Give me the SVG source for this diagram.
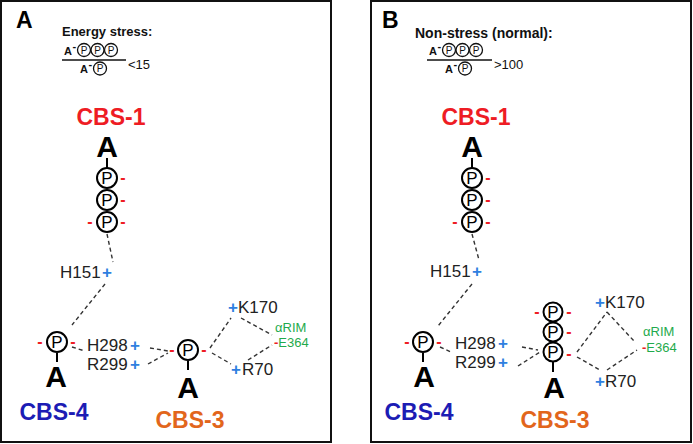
<svg xmlns="http://www.w3.org/2000/svg" width="693" height="444" viewBox="0 0 693 444">
<style>
.panel{fill:#fff;stroke:#111;stroke-width:2}
.plabel{font:bold 23px "Liberation Sans",Arial,sans-serif;fill:#000}
.head{font:bold 13px "Liberation Sans",Arial,sans-serif;fill:#111}
.fa{font:bold 11px "Liberation Sans",Arial,sans-serif;fill:#111}
.fp{font:10px "Liberation Sans",Arial,sans-serif;fill:#111;text-anchor:middle}
.fr{font:13px "Liberation Sans",Arial,sans-serif;fill:#111}
.fc{fill:#fff;stroke:#111;stroke-width:1.3}
.fl{stroke:#111;stroke-width:1.3}
.cbs{font:bold 23px "Liberation Sans",Arial,sans-serif;text-anchor:middle}
.red{fill:#ee1c24}
.blue{fill:#1c1cb4}
.orange{fill:#e2661c}
.bigA{font:bold 30px "Liberation Sans",Arial,sans-serif;fill:#000;text-anchor:middle}
.pc{fill:#fff;stroke:#000;stroke-width:2}
.pt{font:17px "Liberation Sans",Arial,sans-serif;fill:#000;text-anchor:middle}
.stem{stroke:#000;stroke-width:2}
.neg{font:bold 16px "Liberation Sans",Arial,sans-serif;fill:#ee1c24;text-anchor:middle}
.res{font:17px "Liberation Sans",Arial,sans-serif;fill:#222}
.pos{font:bold 17px "Liberation Sans",Arial,sans-serif;fill:#2f7fe0;text-anchor:middle}
.grn{font:13px "Liberation Sans",Arial,sans-serif;fill:#1faa4c}
.dash{fill:none;stroke:#333;stroke-width:1.4;stroke-dasharray:4 3}
</style>

<g id="panelA">
<rect class="panel" x="1" y="1" width="330" height="441"/>
<text class="plabel" x="16" y="28">A</text>
</g>
<g id="panelB">
<rect class="panel" x="371" y="1" width="320" height="441"/>
<text class="plabel" x="382" y="28">B</text>
</g>

<g id="formulaA">
<text class="head" x="62" y="36">Energy stress:</text>
<text class="fa" x="64" y="55">A</text>
<text class="fa" x="72.5" y="50">-</text>
<circle class="fc" cx="84" cy="50" r="6.5"/><text class="fp" x="84" y="53.6">P</text>
<circle class="fc" cx="97.5" cy="50" r="6.5"/><text class="fp" x="97.5" y="53.6">P</text>
<circle class="fc" cx="111" cy="50" r="6.5"/><text class="fp" x="111" y="53.6">P</text>
<line class="fl" x1="62" y1="60" x2="126" y2="60"/>
<text class="fa" x="80" y="73">A</text>
<text class="fa" x="88.5" y="68">-</text>
<circle class="fc" cx="100" cy="68.5" r="6.5"/><text class="fp" x="100" y="72.1">P</text>
<text class="fr" x="128" y="69">&lt;15</text>
</g>

<g id="formulaB">
<text class="head" x="415" y="38" style="font-size:14px">Non-stress (normal):</text>
<text class="fa" x="429" y="55">A</text>
<text class="fa" x="437.5" y="50">-</text>
<circle class="fc" cx="449" cy="50" r="6.5"/><text class="fp" x="449" y="53.6">P</text>
<circle class="fc" cx="462.5" cy="50" r="6.5"/><text class="fp" x="462.5" y="53.6">P</text>
<circle class="fc" cx="476" cy="50" r="6.5"/><text class="fp" x="476" y="53.6">P</text>
<line class="fl" x1="427" y1="60" x2="492" y2="60"/>
<text class="fa" x="445" y="73">A</text>
<text class="fa" x="453.5" y="68">-</text>
<circle class="fc" cx="465" cy="68.5" r="6.5"/><text class="fp" x="465" y="72.1">P</text>
<text class="fr" x="494" y="69">&gt;100</text>
</g>

<g id="connectors">
<path class="dash" d="M107,234 L113,262"/>
<path class="dash" d="M105,284 L72,325"/>
<path class="dash" d="M72,347 L85,351"/>
<path class="dash" d="M150,348 L168,351"/>
<path class="dash" d="M148,364 L168,353"/>
<path class="dash" d="M210,348 L231,318"/>
<path class="dash" d="M241,318 L272,335"/>
<path class="dash" d="M212,353 L231,364"/>
<path class="dash" d="M248,360 L272,345"/>

<path class="dash" d="M472,234 L479,260"/>
<path class="dash" d="M472,284 L438,326"/>
<path class="dash" d="M440,347 L451,352"/>
<path class="dash" d="M522,347 L538,350"/>
<path class="dash" d="M518,366 L540,352"/>
<path class="dash" d="M577,352 L607,312"/>
<path class="dash" d="M607,312 L634,341"/>
<path class="dash" d="M577,357 L600,370"/>
<path class="dash" d="M607,370 L637,350"/>
</g>

<g id="A-CBS1">
<text class="cbs red" x="111" y="125">CBS-1</text>
<text class="bigA" x="107" y="157">A</text>
<line class="stem" x1="107" y1="158" x2="107" y2="168"/>
<circle class="pc" cx="107" cy="178" r="10"/><text class="pt" x="107" y="184">P</text>
<circle class="pc" cx="107" cy="200" r="10"/><text class="pt" x="107" y="206">P</text>
<circle class="pc" cx="107" cy="222" r="10"/><text class="pt" x="107" y="228">P</text>
<text class="neg" x="123" y="182.5">-</text>
<text class="neg" x="123" y="204.5">-</text>
<text class="neg" x="123" y="226.5">-</text>
<text class="neg" x="90" y="226.5">-</text>
</g>
<g id="A-H151">
<text class="res" x="60" y="278">H151</text>
<text class="pos" x="107" y="278">+</text>
</g>
<g id="A-CBS4">
<circle class="pc" cx="57" cy="342" r="10"/><text class="pt" x="57" y="348">P</text>
<text class="neg" x="40" y="346.5">-</text>
<text class="neg" x="73" y="346.5">-</text>
<line class="stem" x1="57" y1="353" x2="57" y2="362"/>
<text class="bigA" x="56" y="387">A</text>
<text class="cbs blue" x="54" y="420">CBS-4</text>
</g>
<g id="A-H298">
<text class="res" x="87" y="351">H298</text>
<text class="pos" x="135" y="351">+</text>
</g>
<g id="A-R299">
<text class="res" x="87" y="370">R299</text>
<text class="pos" x="135" y="370">+</text>
</g>
<g id="A-CBS3">
<circle class="pc" cx="188" cy="350" r="10"/><text class="pt" x="188" y="356">P</text>
<text class="neg" x="172" y="354.5">-</text>
<text class="neg" x="204" y="354.5">-</text>
<line class="stem" x1="188" y1="361" x2="188" y2="370"/>
<text class="bigA" x="188" y="398">A</text>
<text class="cbs orange" x="190" y="428">CBS-3</text>
</g>
<g id="A-K170">
<text class="pos" x="233" y="313">+</text>
<text class="res" x="238" y="313">K170</text>
</g>
<g id="A-R70">
<text class="pos" x="236" y="375">+</text>
<text class="res" x="242" y="375">R70</text>
</g>
<g id="A-E364">
<text class="grn" x="275" y="332">αRIM</text>
<text class="grn" x="274" y="347"><tspan fill="#ee1c24" font-weight="bold">-</tspan>E364</text>
</g>

<g id="B-CBS1">
<text class="cbs red" x="476" y="125">CBS-1</text>
<text class="bigA" x="472" y="157">A</text>
<line class="stem" x1="472" y1="158" x2="472" y2="168"/>
<circle class="pc" cx="472" cy="178" r="10"/><text class="pt" x="472" y="184">P</text>
<circle class="pc" cx="472" cy="200" r="10"/><text class="pt" x="472" y="206">P</text>
<circle class="pc" cx="472" cy="222" r="10"/><text class="pt" x="472" y="228">P</text>
<text class="neg" x="488" y="182.5">-</text>
<text class="neg" x="488" y="204.5">-</text>
<text class="neg" x="488" y="226.5">-</text>
<text class="neg" x="455" y="226.5">-</text>
</g>
<g id="B-H151">
<text class="res" x="430" y="277">H151</text>
<text class="pos" x="477" y="277">+</text>
</g>
<g id="B-CBS4">
<circle class="pc" cx="423" cy="342" r="10"/><text class="pt" x="423" y="348">P</text>
<text class="neg" x="407" y="346.5">-</text>
<text class="neg" x="439" y="346.5">-</text>
<line class="stem" x1="423" y1="353" x2="423" y2="362"/>
<text class="bigA" x="424" y="387">A</text>
<text class="cbs blue" x="419" y="420">CBS-4</text>
</g>
<g id="B-H298">
<text class="res" x="455" y="349">H298</text>
<text class="pos" x="503" y="349">+</text>
</g>
<g id="B-R299">
<text class="res" x="455" y="368">R299</text>
<text class="pos" x="503" y="368">+</text>
</g>
<g id="B-CBS3">
<circle class="pc" cx="553" cy="312" r="9.5"/><text class="pt" x="553" y="318">P</text>
<circle class="pc" cx="553" cy="332" r="9.5"/><text class="pt" x="553" y="338">P</text>
<circle class="pc" cx="553" cy="352" r="9.5"/><text class="pt" x="553" y="358">P</text>
<text class="neg" x="537" y="316.5">-</text>
<text class="neg" x="569" y="316.5">-</text>
<text class="neg" x="569" y="336.5">-</text>
<text class="neg" x="569" y="358.5">-</text>
<line class="stem" x1="553" y1="362" x2="553" y2="372"/>
<text class="bigA" x="554" y="398">A</text>
<text class="cbs orange" x="555" y="428">CBS-3</text>
</g>
<g id="B-K170">
<text class="pos" x="600" y="308">+</text>
<text class="res" x="605" y="308">K170</text>
</g>
<g id="B-R70">
<text class="pos" x="600" y="387">+</text>
<text class="res" x="605" y="387">R70</text>
</g>
<g id="B-E364">
<text class="grn" x="643" y="336">αRIM</text>
<text class="grn" x="642" y="352"><tspan fill="#ee1c24" font-weight="bold">-</tspan>E364</text>
</g>
</svg>
